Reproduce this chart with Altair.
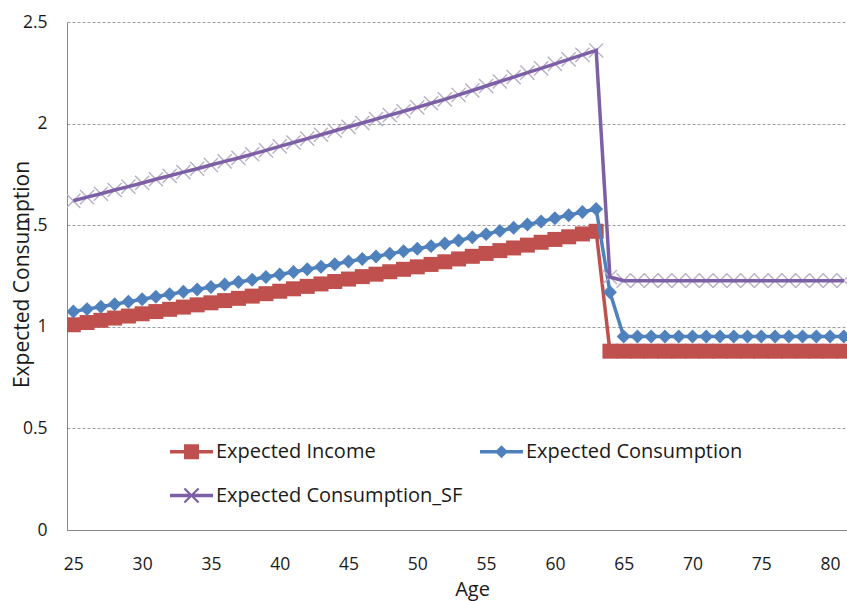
import altair as alt
import pandas as pd

# Age grid (years) and the three expected paths
ages = list(range(25, 82))

income = [
    1.010, 1.021, 1.032, 1.043, 1.053, 1.064, 1.075, 1.086, 1.097, 1.108,
    1.118, 1.129, 1.140, 1.151, 1.163, 1.175, 1.187, 1.199, 1.211, 1.223,
    1.235, 1.247, 1.259, 1.271, 1.283, 1.295, 1.307, 1.320, 1.334, 1.347,
    1.361, 1.375, 1.388, 1.402, 1.416, 1.430, 1.443, 1.457, 1.470,
    0.880, 0.880, 0.880, 0.880, 0.880, 0.880, 0.880, 0.880, 0.880, 0.880,
    0.880, 0.880, 0.880, 0.880, 0.880, 0.880, 0.880, 0.880,
]

consumption = [
    1.075, 1.087, 1.099, 1.111, 1.123, 1.136, 1.148, 1.160, 1.172, 1.184,
    1.196, 1.208, 1.220, 1.232, 1.245, 1.257, 1.270, 1.283, 1.295, 1.308,
    1.321, 1.334, 1.346, 1.359, 1.372, 1.384, 1.397, 1.410, 1.425, 1.441,
    1.456, 1.472, 1.487, 1.503, 1.518, 1.534, 1.549, 1.565, 1.580,
    1.170, 0.952, 0.952, 0.952, 0.952, 0.952, 0.952, 0.952, 0.952, 0.952,
    0.952, 0.952, 0.952, 0.952, 0.952, 0.952, 0.952, 0.952,
]

consumption_sf = [
    1.620, 1.638, 1.655, 1.673, 1.690, 1.708, 1.726, 1.743, 1.761, 1.778,
    1.796, 1.814, 1.831, 1.849, 1.868, 1.888, 1.907, 1.926, 1.945, 1.965,
    1.984, 2.003, 2.022, 2.042, 2.061, 2.080, 2.100, 2.119, 2.141, 2.163,
    2.185, 2.207, 2.229, 2.251, 2.272, 2.294, 2.316, 2.338, 2.360,
    1.245, 1.227, 1.227, 1.227, 1.227, 1.227, 1.227, 1.227, 1.227, 1.227,
    1.227, 1.227, 1.227, 1.227, 1.227, 1.227, 1.227, 1.227,
]

series_names = ["Expected Income", "Expected Consumption", "Expected Consumption_SF"]
series_colors = ["#C0504D", "#4F81BD", "#7D5FA6"]
x_marker_color = "#B8AFC8"
x_ticks = [25, 30, 35, 40, 45, 50, 55, 60, 65, 70, 75, 80]
y_ticks = [0, 0.5, 1, 1.5, 2, 2.5]

FONT = "Open Sans"
TEXT = "#1a1a1a"

frames = []
for name, vals in zip(series_names, [income, consumption, consumption_sf]):
    frames.append(pd.DataFrame({"age": ages, "value": vals, "series": name}))
data = pd.concat(frames, ignore_index=True)

# x-shaped marker drawn as a stroked path
X_PATH = "M-1,-1L1,1M-1,1L1,-1"


def x_polygon(r, t):
    d = t * 0.7071
    a = f"M{-r + d},{-r - d}L{r + d},{r - d}L{r - d},{r + d}L{-r - d},{-r + d}Z"
    b = f"M{-r - d},{r - d}L{r - d},{-r - d}L{r + d},{-r + d}L{-r + d},{r + d}Z"
    return a + b


# legend glyphs: a short line segment with the series marker on it
LINE_BAR = "M-1,-0.08H1V0.08H-1Z"
legend_paths = [
    LINE_BAR + "M-0.35,-0.35H0.35V0.35H-0.35Z",
    LINE_BAR + "M0,-0.3L0.3,0L0,0.3L-0.3,0Z",
    LINE_BAR + x_polygon(0.33, 0.05),
]

x_enc = alt.X(
    "age:Q",
    scale=alt.Scale(domain=[24.54, 81.23], nice=False, zero=False),
    axis=alt.Axis(
        values=x_ticks,
        title="Age",
        ticks=False,
        grid=False,
        labelPadding=25,
        titleX=405,
        titleY=65,
        titleFontSize=20,
        titleAlign="center",
        titleBaseline="alphabetic",
    ),
)
y_enc = alt.Y(
    "value:Q",
    scale=alt.Scale(domain=[0, 2.5], nice=False),
    axis=alt.Axis(
        values=y_ticks,
        format="~g",
        title="Expected Consumption",
        ticks=False,
        grid=True,
        labelPadding=20,
        titleX=-39,
        titleY=252,
        titleAngle=270,
        titleAlign="center",
        titleBaseline="alphabetic",
    ),
)

base = alt.Chart(data).encode(x=x_enc, y=y_enc)


def only(name):
    return base.transform_filter(alt.datum.series == name)


income_line = only(series_names[0]).mark_line(color=series_colors[0], strokeWidth=3.5, clip=True)
income_pts = only(series_names[0]).mark_point(
    shape="square", filled=True, size=225, color=series_colors[0], opacity=1, clip=True
)
cons_line = only(series_names[1]).mark_line(color=series_colors[1], strokeWidth=3.5, clip=True)
cons_pts = only(series_names[1]).mark_point(
    shape="diamond", filled=True, size=195, color=series_colors[1], opacity=1, clip=True
)
sf_pts = only(series_names[2]).mark_point(
    shape=X_PATH, filled=False, size=200, stroke=x_marker_color, strokeWidth=1.4, opacity=1, clip=True
)
sf_line = only(series_names[2]).mark_line(color=series_colors[2], strokeWidth=3.5, clip=True)

legend_def = alt.Legend(
    title=None,
    orient="none",
    legendX=103,
    legendY=408,
    direction="horizontal",
    columns=2,
    padding=0,
    symbolSize=1849,
    symbolOpacity=1,
    symbolStrokeWidth=0,
    labelFont=FONT,
    labelFontSize=20,
    labelColor=TEXT,
    labelOffset=3,
    labelLimit=0,
    columnPadding=17,
    rowPadding=12,
)

legend_layer = base.mark_point(filled=True, opacity=0).encode(
    color=alt.Color(
        "series:N",
        scale=alt.Scale(domain=series_names, range=series_colors),
        legend=legend_def,
    ),
    shape=alt.Shape(
        "series:N",
        scale=alt.Scale(domain=series_names, range=legend_paths),
        legend=legend_def,
    ),
)

chart = (
    alt.layer(income_line, income_pts, cons_line, cons_pts, sf_pts, sf_line, legend_layer)
    .properties(
        width=780,
        height=508,
        padding={"left": 67, "top": 22, "right": 0, "bottom": 71},
        autosize="none",
        background="white",
    )
    .configure_view(stroke=None)
    .configure_axis(
        labelFont=FONT,
        labelFontSize=17.5,
        labelColor=TEXT,
        titleFont=FONT,
        titleFontSize=21,
        titleFontWeight="normal",
        titleColor=TEXT,
        domainColor="#868686",
        domainWidth=1,
        gridColor="#9c9c9c",
        gridDash=[3, 2],
        gridWidth=1,
    )
)

chart.save("out.html", embed_options={"renderer": "svg", "actions": False})
